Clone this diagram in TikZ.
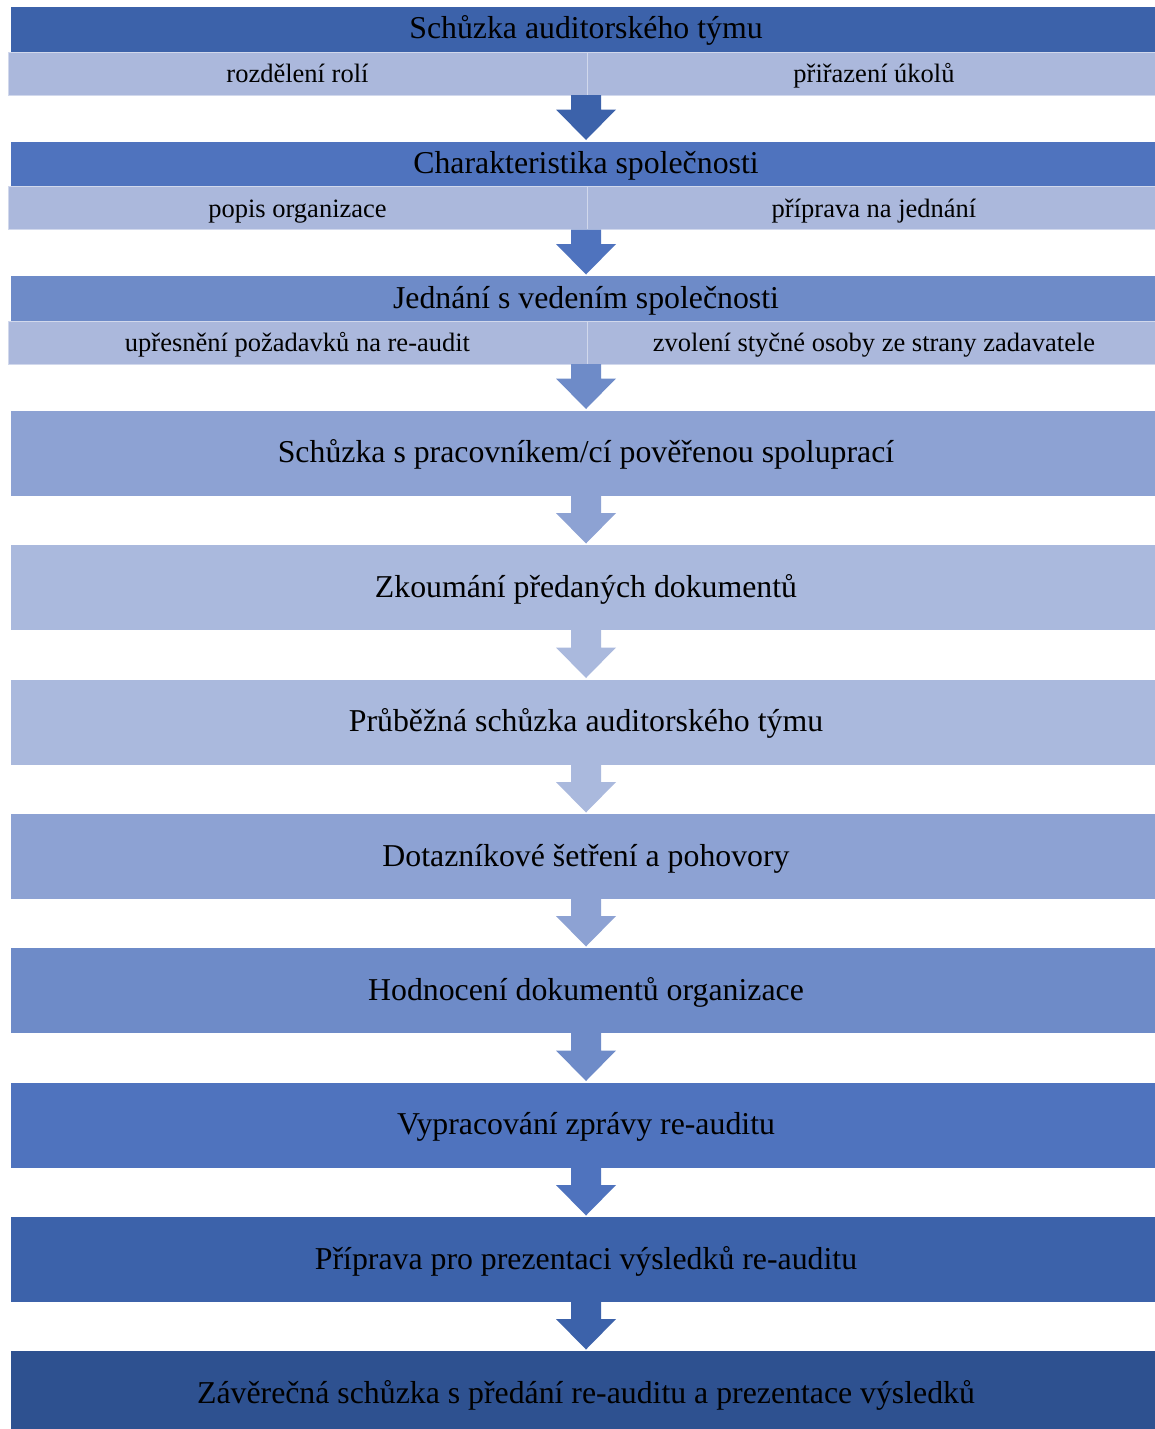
\documentclass[tikz,border=0pt]{standalone}
\usepackage{fontspec}
\setmainfont{Liberation Serif}
\usetikzlibrary{calc}
\definecolor{cA}{HTML}{3C62AA}
\definecolor{cB}{HTML}{4F73BE}
\definecolor{cC}{HTML}{6E8BC8}
\definecolor{cD}{HTML}{8DA2D3}
\definecolor{cE}{HTML}{AAB9DD}
\definecolor{cF}{HTML}{2E5190}
\definecolor{csub}{HTML}{ABB8DC}
\newcommand{\barrow}[3]{%
  \fill[#3] let \p1=(#1), \p2=(#2.north) in
    (\x2-15pt,\y1) -- (\x2+15pt,\y1) -- (\x2+15pt,\y2+32pt) -- (\x2+30pt,\y2+32pt)
    -- (\x2,\y2+1.5pt) -- (\x2-30pt,\y2+32pt) -- (\x2-15pt,\y2+32pt) -- cycle;}
\begin{document}
\begin{tikzpicture}[x=1pt,y=-1pt,
  hdr/.style={anchor=north west,inner sep=0pt,outer sep=0pt,minimum width=1150pt,minimum height=45pt,
    font=\fontsize{31.8}{34}\selectfont,text=black,text height=22pt,text depth=3pt},
  subbox/.style={anchor=north west,inner sep=0pt,outer sep=0pt,minimum width=579pt,minimum height=43pt,
    fill=csub,draw=csub!55!white,line width=0.8pt,font=\fontsize{26.5}{29}\selectfont,text=black,
    text height=21pt,text depth=3pt},
  mainbox/.style={anchor=north west,inner sep=0pt,outer sep=0pt,minimum width=1150pt,minimum height=85pt,
    font=\fontsize{31.8}{34}\selectfont,text=black,text height=22pt,text depth=2.5pt}]
\useasboundingbox (0,0) rectangle (1154,1429);
\fill[white] (0,0) rectangle (1154,1429);
% block 1
\node[hdr,fill=cA] (h1) at (11,7) {Schůzka auditorského týmu};
\node[subbox] (s1l) at (8,52) {rozdělení rolí};
\node[subbox,minimum width=574pt] (s1r) at (587,52) {přiřazení úkolů};
% block 2
\node[hdr,fill=cB] (h2) at (11,141.5) {Charakteristika společnosti};
\node[subbox] (s2l) at (8,186.5) {popis organizace};
\node[subbox,minimum width=574pt] (s2r) at (587,186.5) {příprava na jednání};
% block 3
\node[hdr,fill=cC] (h3) at (11,276) {Jednání s vedením společnosti};
\node[subbox] (s3l) at (8,321) {upřesnění požadavků na re-audit};
\node[subbox,minimum width=574pt] (s3r) at (587,321) {zvolení styčné osoby ze strany zadavatele};
% main boxes
\node[mainbox,fill=cD] (m4) at (11,410.5) {Schůzka s pracovníkem/cí pověřenou spoluprací};
\node[mainbox,fill=cE] (m5) at (11,545) {Zkoumání předaných dokumentů};
\node[mainbox,fill=cE] (m6) at (11,679.5) {Průběžná schůzka auditorského týmu};
\node[mainbox,fill=cD] (m7) at (11,814) {Dotazníkové šetření a pohovory};
\node[mainbox,fill=cC] (m8) at (11,948) {Hodnocení dokumentů organizace};
\node[mainbox,fill=cB] (m9) at (11,1082.5) {Vypracování zprávy re-auditu};
\node[mainbox,fill=cA] (m10) at (11,1217) {Příprava pro prezentaci výsledků re-auditu};
\node[mainbox,fill=cF] (m11) at (11,1351) {Závěrečná schůzka s předání re-auditu a prezentace výsledků};
% arrows
\barrow{s1l.south east}{h2}{cA}
\barrow{s2l.south east}{h3}{cB}
\barrow{s3l.south east}{m4}{cC}
\barrow{m4.south}{m5}{cD}
\barrow{m5.south}{m6}{cE}
\barrow{m6.south}{m7}{cE}
\barrow{m7.south}{m8}{cD}
\barrow{m8.south}{m9}{cC}
\barrow{m9.south}{m10}{cB}
\barrow{m10.south}{m11}{cA}
\end{tikzpicture}
\end{document}
